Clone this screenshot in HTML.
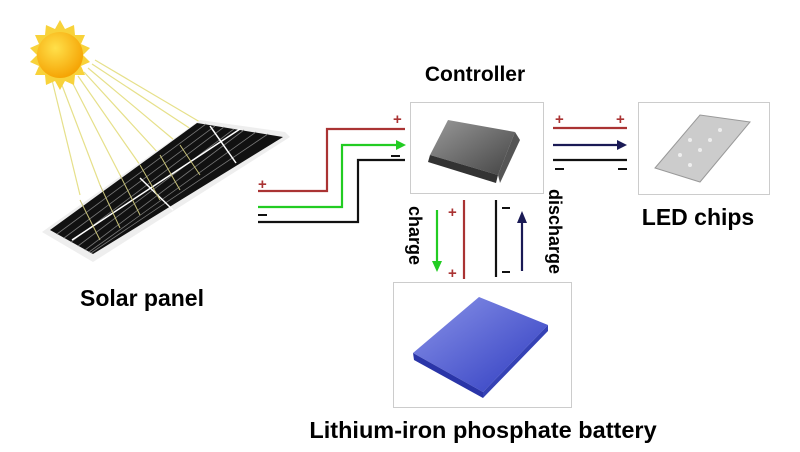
<!DOCTYPE html>
<html><head><meta charset="utf-8"><style>body{margin:0;background:#fff}svg{display:block}text{font-family:"Liberation Sans",sans-serif;font-weight:bold}</style></head><body>
<svg width="800" height="452" viewBox="0 0 800 452">
<defs>
<radialGradient id="sun" cx="0.4" cy="0.35" r="0.7"><stop offset="0" stop-color="#ffe04a"/><stop offset="1" stop-color="#f5a000"/></radialGradient>
<linearGradient id="bat" x1="0" y1="0" x2="1" y2="1"><stop offset="0" stop-color="#8a93e8"/><stop offset="1" stop-color="#2e3bc0"/></linearGradient>
<linearGradient id="ctl" x1="0" y1="0" x2="1" y2="1"><stop offset="0" stop-color="#999"/><stop offset="1" stop-color="#444"/></linearGradient>
</defs>
<!-- sun rays -->
<g stroke="#e6e08a" stroke-width="1.2">
<line x1="52" y1="80" x2="80" y2="195"/><line x1="60" y1="80" x2="100" y2="185"/><line x1="70" y1="78" x2="120" y2="175"/>
<line x1="78" y1="76" x2="140" y2="165"/><line x1="84" y1="72" x2="160" y2="155"/><line x1="88" y1="68" x2="180" y2="145"/>
<line x1="92" y1="64" x2="200" y2="135"/><line x1="95" y1="60" x2="205" y2="125"/>
</g>
<!-- sun -->
<polygon points="60,20 65,29 74,25 75,35 85,35 81,44 90,48 83,55 90,62 81,66 85,75 75,75 74,85 65,81 60,90 55,81 46,85 45,75 35,75 39,66 30,62 37,55 30,48 39,44 35,35 45,35 46,25 55,29" fill="#f8d23a"/>
<circle cx="60" cy="55" r="23" fill="url(#sun)"/>
<!-- panel -->
<polygon points="42,232 93,262 290,137 285,132 200,120" fill="#eee"/>
<polygon points="50,230 93,254 283,137 197,123" fill="#111"/>
<g stroke="#777" stroke-width="0.8">
<line x1="57" y1="234" x2="206" y2="124"/><line x1="64" y1="238" x2="215" y2="126"/><line x1="71" y1="242" x2="224" y2="127"/>
<line x1="78" y1="246" x2="234" y2="129"/><line x1="85" y1="250" x2="244" y2="130"/><line x1="89" y1="252" x2="256" y2="132"/><line x1="91" y1="253" x2="268" y2="134"/>
</g>
<g stroke="#fff" stroke-width="1.5"><line x1="72" y1="240" x2="240" y2="129"/><line x1="140" y1="178" x2="173" y2="210"/><line x1="210" y1="126" x2="236" y2="163"/></g>
<g stroke="#c8c27a" stroke-width="1"><line x1="80" y1="200" x2="100" y2="240"/><line x1="100" y1="185" x2="120" y2="228"/><line x1="120" y1="175" x2="140" y2="215"/><line x1="140" y1="165" x2="160" y2="200"/><line x1="160" y1="155" x2="180" y2="190"/><line x1="180" y1="145" x2="200" y2="175"/></g>
<!-- left wires -->
<g fill="none" stroke-width="2.2">
<polyline points="258,191 327,191 327,129 405,129" stroke="#a33"/>
<polyline points="258,207 342,207 342,145 396,145" stroke="#2c2"/>
<polyline points="258,222 358,222 358,160 405,160" stroke="#111"/>
</g>
<polygon points="396,140 406,145 396,150" fill="#2c2"/>
<g font-size="15" fill="#a33"><text x="258" y="189">+</text><text x="393" y="124">+</text></g>
<g fill="#111"><rect x="258" y="214" width="9" height="2"/><rect x="391" y="155" width="9" height="2"/></g>
<!-- controller -->
<rect x="410.5" y="102.5" width="133" height="91" fill="#fff" stroke="#ccc"/>
<polygon points="430,155 448,120 515,132 498,175" fill="url(#ctl)"/>
<polygon points="430,155 498,175 496,183 428,162" fill="#333"/>
<polygon points="498,175 515,132 520,140 500,183" fill="#555"/>
<!-- right wires -->
<g stroke-width="2.2">
<line x1="553" y1="128" x2="627" y2="128" stroke="#a33"/>
<line x1="553" y1="145" x2="618" y2="145" stroke="#1a1a55"/>
<line x1="553" y1="160" x2="627" y2="160" stroke="#111"/>
</g>
<polygon points="617,140 627,145 617,150" fill="#1a1a55"/>
<g font-size="15" fill="#a33"><text x="555" y="124">+</text><text x="616" y="124">+</text></g>
<g fill="#111"><rect x="555" y="168" width="9" height="2"/><rect x="618" y="168" width="9" height="2"/></g>
<!-- LED -->
<rect x="638.5" y="102.5" width="131" height="92" fill="#fff" stroke="#ccc"/>
<polygon points="655,168 700,115 750,122 700,182" fill="#ccc" stroke="#999"/>
<g fill="#eee"><circle cx="690" cy="140" r="2"/><circle cx="700" cy="150" r="2"/><circle cx="710" cy="140" r="2"/><circle cx="680" cy="155" r="2"/><circle cx="720" cy="130" r="2"/><circle cx="690" cy="165" r="2"/></g>
<!-- vertical wires -->
<g stroke-width="2.2">
<line x1="464" y1="200" x2="464" y2="279" stroke="#a33"/>
<line x1="496" y1="200" x2="496" y2="277" stroke="#111"/>
<line x1="437" y1="210" x2="437" y2="263" stroke="#2c2"/>
<line x1="522" y1="220" x2="522" y2="271" stroke="#1a1a55"/>
</g>
<polygon points="432,261 437,272 442,261" fill="#2c2"/>
<polygon points="517,223 522,211 527,223" fill="#1a1a55"/>
<g font-size="15" fill="#a33"><text x="448" y="217">+</text><text x="448" y="278">+</text></g>
<g fill="#111"><rect x="502" y="207" width="8" height="2"/><rect x="502" y="271" width="8" height="2"/></g>
<text transform="translate(409,206) rotate(90)" font-size="18">charge</text>
<text transform="translate(549,189) rotate(90)" font-size="18">discharge</text>
<!-- battery -->
<rect x="393.5" y="282.5" width="178" height="125" fill="#fff" stroke="#ccc"/>
<polygon points="413,353 479,297 548,325 483,392" fill="url(#bat)"/>
<polygon points="413,353 483,392 483,398 414,360" fill="#2a35a8"/>
<polygon points="483,392 548,325 548,331 483,398" fill="#3542b5"/>
<!-- labels -->
<text x="475" y="81" font-size="21" text-anchor="middle">Controller</text>
<text x="142" y="306" font-size="23" text-anchor="middle">Solar panel</text>
<text x="698" y="225" font-size="23" text-anchor="middle">LED chips</text>
<text x="483" y="438" font-size="23.5" text-anchor="middle">Lithium-iron phosphate battery</text>
</svg>
</body></html>
